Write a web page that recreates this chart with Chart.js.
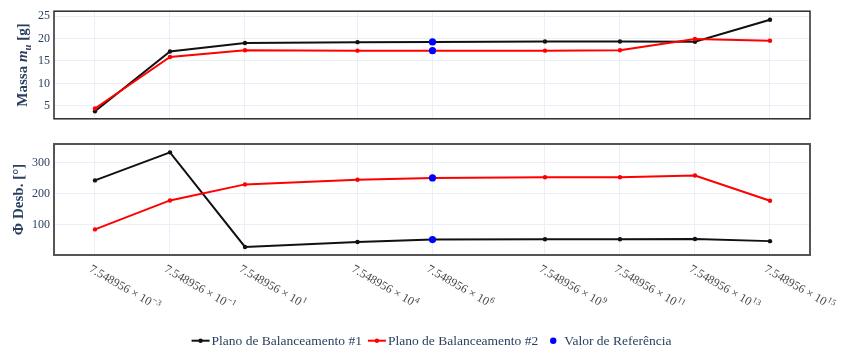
<!DOCTYPE html>
<html>
<head>
<meta charset="utf-8">
<script src="https://cdn.jsdelivr.net/npm/chart.js@4.4.1/dist/chart.umd.min.js"></script>
<style>
  html, body { margin: 0; padding: 0; background: #ffffff; }
  #wrap { position: relative; width: 841px; height: 351px; }
  #wrap canvas { position: absolute; left: 0; }
</style>
</head>
<body>
<div id="wrap">
  <canvas id="massa" width="841" height="130" style="top:0px"></canvas>
  <canvas id="fase" width="841" height="221" style="top:130px"></canvas>
</div>
<script>
// Rotation speeds: 7.548956 × 10^e
const MANTISSA = 7.548956;
const MANTISSA_LABEL = '7.548956';
const exponents = [-3, -1, 1, 4, 6, 9, 11, 13, 15];
const exponentLabels = ['−3', '−1', '1', '4', '6', '9', '11', '13', '15'];
const velocidades = exponents.map(e => MANTISSA * Math.pow(10, e));

// Unbalance mass [g]
const massaPlano1 = [3.8, 17.1, 19.0, 19.2, 19.25, 19.35, 19.35, 19.3, 24.2];
const massaPlano2 = [4.4, 15.9, 17.4, 17.3, 17.3, 17.3, 17.4, 19.9, 19.5];

// Unbalance phase [°]
const fasePlano1 = [243, 334, 27, 43, 51, 52, 52, 53, 46];
const fasePlano2 = [84, 178, 230, 245, 251, 253, 253, 259, 177];

// Reference solution sits at the 7.548956 × 10^6 point
const refIndex = 4;

const massaTicks = [5, 10, 15, 20, 25];
const faseTicks = [100, 200, 300];

const serieNomes = ['Plano de Balanceamento #1', 'Plano de Balanceamento #2', 'Valor de Referência'];
const serieCores = ['#111111', '#ff0000', '#0000ff'];

const TEXT_COLOR = '#2a3f5f';
const GRID_COLOR = '#ebf0f8';
const SERIF = '"Liberation Serif", "Times New Roman", serif';

const pts = arr => velocidades.map((x, i) => ({ x, y: arr[i] }));

function lineDataset(label, color, values, order) {
  return {
    label, data: pts(values), borderColor: color, backgroundColor: color,
    borderWidth: 2, pointRadius: 2.2, pointBorderWidth: 0, pointHoverRadius: 2.2,
    tension: 0, order
  };
}
function refDataset(a, b) {
  return {
    label: serieNomes[2],
    data: [{ x: velocidades[refIndex], y: a[refIndex] }, { x: velocidades[refIndex], y: b[refIndex] }],
    showLine: false, borderColor: serieCores[2], backgroundColor: serieCores[2],
    pointRadius: 3.6, pointBorderWidth: 0, order: 1
  };
}

// Draws a run of text pieces with individual fonts / baseline shifts
function richWidth(ctx, parts) {
  let w = 0;
  parts.forEach(p => { ctx.font = p.font; w += ctx.measureText(p.text).width; });
  return w;
}
function drawRich(ctx, parts, x, y) {
  let cx = x;
  parts.forEach(p => {
    ctx.font = p.font;
    ctx.fillText(p.text, cx, y + (p.dy || 0));
    cx += ctx.measureText(p.text).width;
  });
}

const framePlugin = {
  id: 'frame',
  afterDraw(chart, args, opts) {
    const { ctx, chartArea: a } = chart;
    ctx.save();
    ctx.strokeStyle = opts.color;
    ctx.lineWidth = opts.width;
    ctx.strokeRect(a.left, a.top, a.right - a.left, a.bottom - a.top);
    ctx.restore();
  }
};

const yTitlePlugin = {
  id: 'yTitle',
  afterDraw(chart, args, opts) {
    const { ctx, chartArea: a } = chart;
    ctx.save();
    ctx.fillStyle = TEXT_COLOR;
    ctx.textBaseline = 'alphabetic';
    ctx.textAlign = 'left';
    const w = richWidth(ctx, opts.parts);
    ctx.translate(opts.x, (a.top + a.bottom) / 2);
    ctx.rotate(-Math.PI / 2);
    drawRich(ctx, opts.parts, -w / 2, 0);
    ctx.restore();
  }
};

// Slanted tick labels with superscript exponents under the lower plot
const xLabelPlugin = {
  id: 'xLabels',
  afterDraw(chart, args, opts) {
    const { ctx } = chart;
    const xs = chart.scales.x;
    ctx.save();
    ctx.fillStyle = '#444444';
    ctx.textAlign = 'left';
    ctx.textBaseline = 'top';
    velocidades.forEach((v, i) => {
      const px = xs.getPixelForValue(v);
      ctx.save();
      ctx.translate(px - 2, opts.y);
      ctx.rotate(Math.PI / 6);
      ctx.font = '12px ' + SERIF;
      const base = MANTISSA_LABEL + ' × 10';
      ctx.fillText(base, 0, 0);
      const bw = ctx.measureText(base).width;
      ctx.font = '8.5px ' + SERIF;
      ctx.fillText(exponentLabels[i], bw + 0.5, -2.5);
      ctx.restore();
    });
    ctx.restore();
  }
};

const legendPlugin = {
  id: 'legendaInferior',
  afterDraw(chart, args, opts) {
    const { ctx } = chart;
    ctx.save();
    ctx.font = '13.5px ' + SERIF;
    ctx.textBaseline = 'middle';
    ctx.textAlign = 'left';
    const sample = 18, gapText = 2, gapItem = 6;
    const widths = serieNomes.map(n => ctx.measureText(n).width);
    const total = widths.reduce((s, w) => s + sample + gapText + w, 0) + gapItem * (serieNomes.length - 1);
    let x = opts.cx - total / 2;
    const y = opts.y;
    serieNomes.forEach((nome, i) => {
      const c = serieCores[i];
      if (i < 2) {
        ctx.strokeStyle = c; ctx.lineWidth = 2;
        ctx.beginPath(); ctx.moveTo(x, y); ctx.lineTo(x + sample, y); ctx.stroke();
        ctx.fillStyle = c;
        ctx.beginPath(); ctx.arc(x + sample / 2, y, 2.2, 0, Math.PI * 2); ctx.fill();
      } else {
        ctx.fillStyle = c;
        ctx.beginPath(); ctx.arc(x + sample / 2, y, 3.2, 0, Math.PI * 2); ctx.fill();
      }
      ctx.fillStyle = TEXT_COLOR;
      ctx.fillText(nome, x + sample + gapText, y + 0.5);
      x += sample + gapText + widths[i] + gapItem;
    });
    ctx.restore();
  }
};

const X_MIN = Math.pow(10, -3.215);
const X_MAX = Math.pow(10, 16.945);

function options(yMin, yMax, yTicks, padding, frame, title, extra) {
  return {
    responsive: false,
    animation: false,
    devicePixelRatio: 1,
    layout: { padding },
    plugins: Object.assign({
      legend: { display: false },
      tooltip: { enabled: false },
      frame,
      yTitle: title
    }, extra || {}),
    scales: {
      x: {
        type: 'logarithmic', min: X_MIN, max: X_MAX, bounds: 'data',
        afterBuildTicks: s => { s.ticks = velocidades.map(v => ({ value: v })); },
        ticks: { display: false },
        grid: { color: GRID_COLOR, lineWidth: 1, drawTicks: false },
        border: { display: false }
      },
      y: {
        type: 'linear', min: yMin, max: yMax,
        afterBuildTicks: s => { s.ticks = yTicks.map(v => ({ value: v })); },
        afterFit: s => { s.width = 54; },
        ticks: { padding: 4, color: TEXT_COLOR, font: { family: SERIF, size: 12 } },
        grid: { color: GRID_COLOR, lineWidth: 1, drawTicks: false },
        border: { display: false }
      }
    }
  };
}

new Chart(document.getElementById('massa'), {
  type: 'line',
  data: {
    datasets: [
      lineDataset(serieNomes[0], serieCores[0], massaPlano1, 3),
      lineDataset(serieNomes[1], serieCores[1], massaPlano2, 2),
      refDataset(massaPlano1, massaPlano2)
    ]
  },
  options: options(2.1, 26.1, massaTicks,
    { top: 9, right: 31, bottom: 10, left: 0 },
    { color: '#2a2a2a', width: 1.5 },
    { x: 27, parts: [
      { text: 'Massa ', font: 'bold 15px ' + SERIF },
      { text: 'm', font: 'italic bold 15px ' + SERIF },
      { text: 'u', font: 'italic bold 10.5px ' + SERIF, dy: 3.5 },
      { text: ' [g]', font: 'bold 15px ' + SERIF }
    ] }),
  plugins: [framePlugin, yTitlePlugin]
});

new Chart(document.getElementById('fase'), {
  type: 'line',
  data: {
    datasets: [
      lineDataset(serieNomes[0], serieCores[0], fasePlano1, 3),
      lineDataset(serieNomes[1], serieCores[1], fasePlano2, 2),
      refDataset(fasePlano1, fasePlano2)
    ]
  },
  options: options(1, 361, faseTicks,
    { top: 14, right: 31, bottom: 96, left: 0 },
    { color: '#555555', width: 2 },
    { x: 23, parts: [
      { text: 'Φ Desb. [°]', font: 'bold 15px ' + SERIF }
    ] },
    { xLabels: { y: 133 }, legendaInferior: { cx: 431.5, y: 210.7 } }),
  plugins: [framePlugin, yTitlePlugin, xLabelPlugin, legendPlugin]
});
</script>
</body>
</html>
